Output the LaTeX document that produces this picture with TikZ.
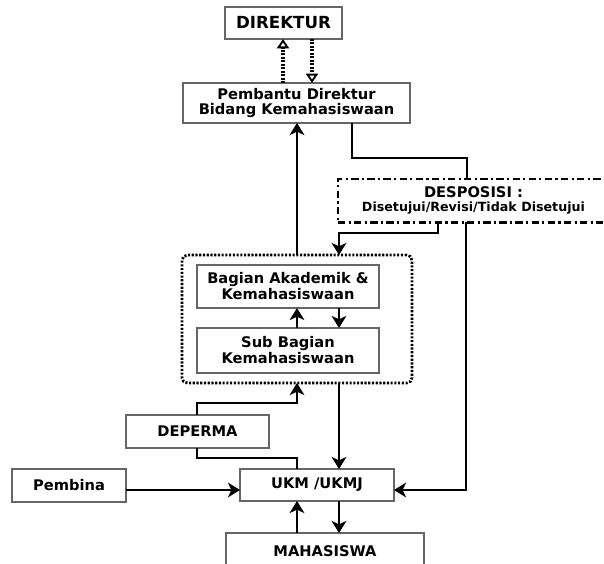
\documentclass[tikz,border=0pt]{standalone}
\usepackage{fontspec}
\setmainfont{DejaVu Sans}
\usetikzlibrary{arrows.meta}

\tikzset{
  unit/.style={draw=black!60, line width=1pt, inner sep=0pt, outer sep=0pt,
    align=center, text=black, font=\bfseries\fontsize{11}{12}\selectfont},
  grpframe/.style={draw=black, line width=2pt, rounded corners=4pt,
    dash pattern=on 1.6pt off 1.2pt, inner sep=0pt, outer sep=0pt},
  dispo/.style={draw=black, line width=2.2pt, inner sep=0pt, outer sep=0pt,
    dash pattern=on 5.5pt off 2.5pt on 1.6pt off 2.5pt, align=center, text=black},
  link/.style={line width=2.1pt, black},
  flow/.style={link, -{Stealth[length=9pt,width=11pt,inset=2.5pt]}},
  dotflow/.style={line width=2.3pt, black, dash pattern=on 1.5pt off 1.1pt,
    -{Triangle[open,length=7pt,width=9pt,line width=1.4pt]}}
}

\begin{document}
\begin{tikzpicture}[x=0.75pt,y=-0.75pt]
  \useasboundingbox (0,0) rectangle (604,564);
  \clip (0,0) rectangle (604,564);

  % boxes
  \node[unit, minimum width=87.8pt, minimum height=24pt, font=\bfseries\fontsize{12.5}{13}\selectfont] (dir) at (283.5,23) {DIREKTUR};
  \node[unit, minimum width=170.3pt, minimum height=30pt, font=\bfseries\fontsize{11}{11.5}\selectfont] (pd) at (296.5,103) {Pembantu Direktur\\Bidang Kemahasiswaan};
  \node[dispo, minimum width=203.3pt, minimum height=32.3pt] (desp) at (473.5,200.5)
    {\bfseries\fontsize{11}{12}\selectfont DESPOSISI :\\[-1pt]\bfseries\fontsize{9.5}{11}\selectfont Disetujui/Revisi/Tidak Disetujui};
  \node[grpframe, minimum width=172.5pt, minimum height=96pt] (grp) at (297,319) {};
  \node[unit, minimum width=136.5pt, minimum height=32.3pt] (bak) at (288,286.5) {Bagian Akademik \&\\Kemahasiswaan};
  \node[unit, minimum width=136.5pt, minimum height=33.8pt] (sbk) at (288,350.5) {Sub Bagian\\Kemahasiswaan};
  \node[unit, minimum width=107.3pt, minimum height=24.8pt] (dep) at (197.5,431.5) {DEPERMA};
  \node[unit, minimum width=85.5pt, minimum height=24.8pt] (pem) at (69,485.5) {Pembina};
  \node[unit, minimum width=115.5pt, minimum height=24pt] (ukm) at (317,485) {UKM /UKMJ};
  \node[unit, minimum width=148.5pt, minimum height=27pt] (mhs) at (325,551) {MAHASISWA};

  % columns and bends
  \coordinate (upx) at (297,0);
  \coordinate (dnx) at (339,0);
  \coordinate (c1) at (352,158);
  \coordinate (c2) at (467,158);
  \coordinate (c3) at (438,233);
  \coordinate (c4) at (339,233);
  \coordinate (c5) at (466,490);
  \coordinate (c6) at (197,403);
  \coordinate (c7) at (197,458);

  % direktur <-> pembantu
  \draw[dotflow] (pd.north -| 283,0) -- (dir.south -| 283,0);
  \draw[dotflow] (dir.south -| 312,0) -- (pd.north -| 312,0);

  % pembantu <-> disposisi
  \draw[flow] (grp.north -| upx) -- (pd.south -| upx);
  \draw[link] (pd.south -| c1) -- (c1) -- (c2) -- (desp.north -| c2);
  \draw[flow] (desp.south -| c3) -- (c3) -- (c4) -- (grp.north -| c4);
  \draw[flow] (desp.south -| c5) -- (c5) -- (ukm.east |- c5);

  % inside group
  \draw[flow] (sbk.north -| upx) -- (bak.south -| upx);
  \draw[flow] (bak.south -| dnx) -- (sbk.north -| dnx);

  % lower part
  \draw[flow] (grp.south -| dnx) -- (ukm.north -| dnx);
  \draw[flow] (dep.north -| c6) -- (c6) -- (c6 -| upx) -- (grp.south -| upx);
  \draw[link] (dep.south -| c7) -- (c7) -- (c7 -| upx) -- (ukm.north -| upx);
  \draw[flow] (pem.east |- c5) -- (ukm.west |- c5);
  \draw[flow] (mhs.north -| upx) -- (ukm.south -| upx);
  \draw[flow] (ukm.south -| dnx) -- (mhs.north -| dnx);
\end{tikzpicture}
\end{document}
